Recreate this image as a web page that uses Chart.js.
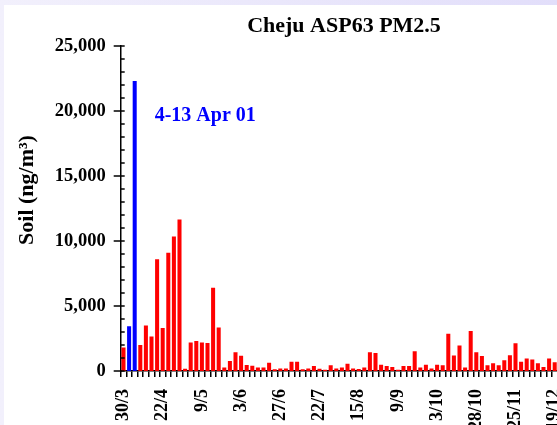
<!DOCTYPE html>
<html>
<head>
<meta charset="utf-8">
<script src="https://cdn.jsdelivr.net/npm/chart.js@4.4.1/dist/chart.umd.min.js"></script>
<style>
  html, body { margin: 0; padding: 0; overflow: hidden; }
  body { width: 557px; height: 425px; position: relative; background: linear-gradient(to right, #f2f0fc, #e2defa); }
  #wrap { position: absolute; left: 4px; top: 5px; width: 680px; height: 440px; background: #fff; }
</style>
</head>
<body>
<div id="wrap"><canvas id="chart" width="680" height="440"></canvas></div>
<script>
// soil PM2.5 per sample, ng/m3
const soil = [
  1800, 3450, 22300, 2000, 3500, 2650, 8600, 3300, 9100, 10350,
  11650, 180, 2200, 2300, 2200, 2150, 6400, 3350, 260, 770,
  1440, 1180, 460, 410, 260, 260, 640, 130, 200, 200,
  720, 720, 130, 200, 380, 180, 100, 440, 200, 260,
  560, 200, 150, 260, 1440, 1380, 490, 380, 310, 100,
  380, 380, 1510, 260, 490, 200, 490, 440, 2870, 1200,
  1970, 260, 3080, 1440, 1150, 440, 590, 440, 830, 1220,
  2140, 710, 960, 890, 600, 300, 960, 680
];
const eventBars = [1, 2]; // 4-13 Apr 01 dust event
const tickIndex = [0, 7, 14, 21, 28, 35, 42, 49, 56, 63, 70, 77];
const tickLabels = ['30/3', '22/4', '9/5', '3/6', '27/6', '22/7', '15/8', '9/9', '3/10', '28/10', '25/11', '19/12'];
const chartTitle = 'Cheju ASP63 PM2.5';
const eventLabel = '4-13 Apr 01';
const yTitle = 'Soil (ng/m\u00B3)';
const yMax = 25000, yMajor = 5000, yMinor = 1000;

const serif = '"Liberation Serif", "Times New Roman", serif';
Chart.defaults.font.family = serif;
Chart.defaults.font.weight = 'bold';
Chart.defaults.color = '#000';

const extras = {
  id: 'extras',
  afterDraw(chart) {
    const { ctx, scales: { x, y } } = chart;
    ctx.save();
    ctx.strokeStyle = '#000';
    ctx.lineWidth = 1.5;
    ctx.beginPath();
    for (let v = 0; v <= yMax; v += yMinor) {
      const py = y.getPixelForValue(v);
      ctx.moveTo(x.left - (v % yMajor === 0 ? 7 : 0), py);
      ctx.lineTo(x.left + 4, py);
    }
    ctx.stroke();

    ctx.fillStyle = '#000';
    ctx.font = 'bold 22px ' + serif;
    ctx.textAlign = 'center';
    ctx.textBaseline = 'alphabetic';
    ctx.fillText(chartTitle, chart.width / 2, 27);

    ctx.fillStyle = '#0000ff';
    ctx.font = 'bold 20px ' + serif;
    ctx.textAlign = 'left';
    ctx.fillText(eventLabel, x.getPixelForValue(eventBars[1]) + 20, y.getPixelForValue(19200));

    // y axis title, sits above the axis middle as in the original
    ctx.fillStyle = '#000';
    ctx.font = 'bold 22px ' + serif;
    ctx.translate(23, 185);
    ctx.rotate(-Math.PI / 2);
    ctx.textAlign = 'center';
    ctx.textBaseline = 'middle';
    ctx.fillText(yTitle, 0, 0);
    ctx.restore();
  }
};

new Chart(document.getElementById('chart'), {
  type: 'bar',
  data: {
    labels: soil.map((_, i) => i),
    datasets: [{
      data: soil,
      backgroundColor: soil.map((_, i) => eventBars.includes(i) ? '#0000ff' : '#ff0000'),
      borderWidth: 0,
      barPercentage: 0.72,
      categoryPercentage: 1
    }]
  },
  options: {
    responsive: false,
    animation: false,
    layout: { padding: { top: 41, right: 126.5, left: 0, bottom: 0 } },
    plugins: { legend: { display: false }, tooltip: { enabled: false } },
    scales: {
      x: {
        grid: { display: true, drawOnChartArea: false, drawTicks: true, tickLength: 6, offset: true, color: '#000', lineWidth: 1.5 },
        border: { display: true, color: '#000', width: 1.5 },
        ticks: {
          autoSkip: false, maxRotation: 90, minRotation: 90, padding: 12,
          font: { size: 18, weight: 'bold' },
          callback: (v, i) => {
            const k = tickIndex.indexOf(i);
            return k >= 0 ? tickLabels[k] : '';
          }
        },
        afterFit: s => { s.height = 74; }
      },
      y: {
        min: 0, max: yMax,
        grid: { display: false, drawTicks: false },
        border: { display: true, color: '#000', width: 1.5 },
        ticks: {
          stepSize: yMajor, padding: 15,
          font: { size: 18.5, weight: 'bold' },
          callback: v => v.toLocaleString('en-US')
        },
        afterFit: s => { s.width = 116.7; }
      }
    }
  },
  plugins: [extras]
});
</script>
</body>
</html>
